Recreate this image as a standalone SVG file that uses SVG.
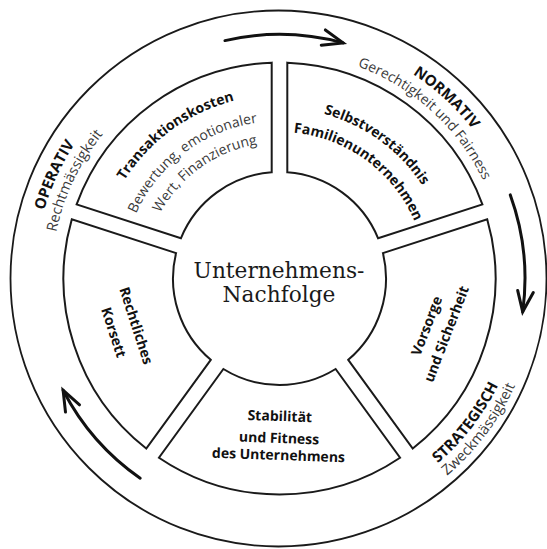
<svg xmlns="http://www.w3.org/2000/svg" width="547" height="549" viewBox="0 0 547 549">
<style>
.seg{fill:#fff;stroke:#1a1a1a;stroke-width:2;stroke-linejoin:miter}
.ring{fill:none;stroke:#1a1a1a;stroke-width:1.8}
.b{font-family:"Open Sans","Noto Sans",sans-serif;font-weight:700;font-size:14px;fill:#111}
.rb{font-family:"Open Sans","Noto Sans",sans-serif;font-weight:700;font-size:15px;fill:#111}
.r{font-family:"Open Sans","Noto Sans",sans-serif;font-weight:400;font-size:14.5px;fill:#3a3a3a}
.c{font-family:"DejaVu Serif","Liberation Serif",serif;font-size:21.7px;fill:#1a1a1a}
.arrow{fill:none;stroke:#111;stroke-width:3;stroke-linecap:round;marker-end:url(#head)}
</style>
<defs>
<marker id="head" markerUnits="userSpaceOnUse" viewBox="-26 -13 30 26" refX="0" refY="0" markerWidth="30" markerHeight="26" orient="auto" overflow="visible">
<path d="M -20.5 -7.9 L 0 0 L -20.5 7.9" fill="none" stroke="#111" stroke-width="3" stroke-linecap="round" stroke-linejoin="miter"/>
</marker>
<path id="pN" d="M 167.6 61.7 A 244 244 0 0 1 504.6 372.7"/>
<path id="pG" d="M 174.3 78.5 A 226 226 0 0 1 488.7 364.1"/>
<path id="pO" d="M 107.2 452.6 A 245 245 0 0 1 299.6 34.3"/>
<path id="pR" d="M 116.9 438.3 A 228 228 0 0 1 301.3 51.5"/>
<path id="pS" d="M 205.5 510.3 A 243.3 243.3 0 0 0 485.2 148.5"/>
<path id="pZ" d="M 203.6 525.9 A 258.8 258.8 0 0 0 496.7 137.7"/>
<path id="pT" d="M 103.1 329.1 A 183.5 183.5 0 0 1 382.1 126.4"/>
<path id="pB" d="M 128.8 324.3 A 157.5 157.5 0 0 1 365.5 146.6"/>
<path id="pW" d="M 148.3 314.4 A 136 136 0 0 1 356.9 166.7"/>
<path id="pSe" d="M 184.2 137.2 A 170.5 170.5 0 0 1 443.4 325.5"/>
<path id="pF" d="M 198.2 156.6 A 146.5 146.5 0 0 1 420.1 319.6"/>
</defs>
<rect width="547" height="549" fill="#fff"/>
<circle id="outer-ring" class="ring" cx="278.5" cy="278.5" r="268"/>

<g id="seg-selbstverstaendnis">
<path class="seg" d="M 287.3 62.64 A 216 216 0 0 1 482.38 204.39 L 378.11 238.26 A 106.5 106.5 0 0 0 287.3 172.29 Z"/>
<text class="b"><textPath href="#pSe" startOffset="50%" text-anchor="middle">Selbstverständnis</textPath></text>
<text class="b"><textPath href="#pF" startOffset="50%" text-anchor="middle">Familienunternehmen</textPath></text>
</g>

<g id="seg-vorsorge">
<path class="seg" d="M 487.2 219.22 A 216 216 0 0 1 412.75 448.5 L 348.24 359.84 A 106.5 106.5 0 0 0 382.93 253.1 Z"/>
<text class="b" transform="translate(427 326) rotate(-69)" text-anchor="middle" y="4.5">Vorsorge</text>
<text class="b" transform="translate(446.7 334.2) rotate(-69)" text-anchor="middle" y="4.5">und Sicherheit</text>
</g>

<g id="seg-stabilitaet">
<path class="seg" d="M 400.06 457.73 A 216 216 0 0 1 158.94 457.73 L 223.38 369.01 A 106.5 106.5 0 0 0 335.62 369.01 Z"/>
<g transform="rotate(2 279 440)">
<text class="b" x="279" y="421" text-anchor="middle">Stabilität</text>
<text class="b" x="279" y="443" text-anchor="middle">und Fitness</text>
<text class="b" x="279" y="460" text-anchor="middle">des Unternehmens</text>
</g>
</g>

<g id="seg-rechtliches">
<path class="seg" d="M 146.25 448.5 A 216 216 0 0 1 71.8 219.22 L 176.07 253.1 A 106.5 106.5 0 0 0 210.76 359.84 Z"/>
<text class="b" transform="translate(135.8 325.8) rotate(72)" text-anchor="middle" y="4.5">Rechtliches</text>
<text class="b" transform="translate(113.3 332.5) rotate(72)" text-anchor="middle" y="4.5">Korsett</text>
</g>

<g id="seg-transaktion">
<path class="seg" d="M 76.62 204.39 A 216 216 0 0 1 271.7 62.64 L 271.7 172.29 A 106.5 106.5 0 0 0 180.89 238.26 Z"/>
<text class="b"><textPath href="#pT" startOffset="50%" text-anchor="middle">Transaktionskosten</textPath></text>
<text class="r" style="font-size:14px"><textPath href="#pB" startOffset="50%" text-anchor="middle">Bewertung, emotionaler</textPath></text>
<text class="r" style="font-size:14px"><textPath href="#pW" startOffset="50%" text-anchor="middle">Wert, Finanzierung</textPath></text>
</g>

<g id="center">
<text class="c" x="279" y="277.5" text-anchor="middle">Unternehmens-</text>
<text class="c" x="279" y="301.5" text-anchor="middle">Nachfolge</text>
</g>

<g id="label-normativ">
<text class="rb"><textPath href="#pN" startOffset="50%" text-anchor="middle">NORMATIV</textPath></text>
<text class="r" style="font-size:14px"><textPath href="#pG" startOffset="50%" text-anchor="middle">Gerechtigkeit und Fairness</textPath></text>
</g>
<g id="label-operativ">
<text class="rb"><textPath href="#pO" startOffset="50%" text-anchor="middle">OPERATIV</textPath></text>
<text class="r"><textPath href="#pR" startOffset="50%" text-anchor="middle">Rechtmässigkeit</textPath></text>
</g>
<g id="label-strategisch">
<text class="rb"><textPath href="#pS" startOffset="50%" text-anchor="middle">STRATEGISCH</textPath></text>
<text class="r"><textPath href="#pZ" startOffset="50%" text-anchor="middle">Zweckmässigkeit</textPath></text>
</g>

<g id="connectors">
<path class="arrow" d="M 225 40.6 A 244 244 0 0 1 343.1 42.9"/>
<path class="arrow" d="M 510.3 194.9 A 245.5 245.5 0 0 1 522.7 311.8"/>
<path class="arrow" d="M 140.2 478.2 A 243.5 243.5 0 0 1 63.1 390.2"/>
</g>
</svg>
